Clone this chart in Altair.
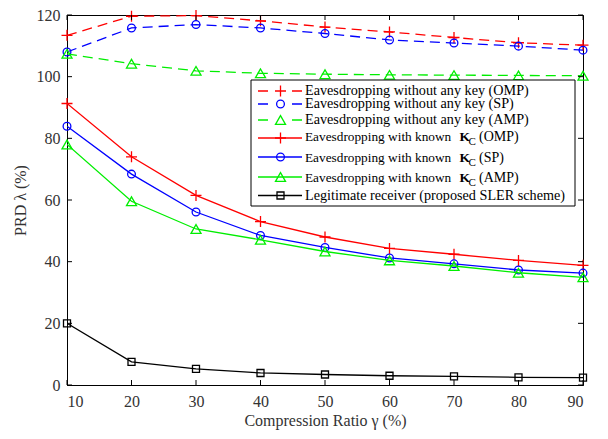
import altair as alt
import pandas as pd

# ---------------- data ----------------
ratios = [10, 20, 30, 40, 50, 60, 70, 80, 90]
omp_nokey = [113.4, 119.6, 119.8, 118.1, 116.1, 114.5, 112.7, 111.0, 110.2]
sp_nokey = [108.0, 115.8, 116.9, 115.8, 114.0, 111.9, 110.9, 109.9, 108.6]
amp_nokey = [107.4, 104.2, 101.9, 101.1, 100.8, 100.6, 100.5, 100.4, 100.3]
omp_kc = [91.3, 74.0, 61.5, 53.0, 48.0, 44.3, 42.4, 40.4, 38.8]
sp_kc = [83.9, 68.4, 56.1, 48.5, 44.6, 41.2, 39.3, 37.3, 36.3]
amp_kc = [78.0, 59.6, 50.6, 47.1, 43.3, 40.4, 38.6, 36.4, 34.9]
legit = [20.0, 7.5, 5.2, 3.9, 3.4, 3.0, 2.8, 2.5, 2.4]

x_ticks = [10, 20, 30, 40, 50, 60, 70, 80, 90]
y_ticks = [0, 20, 40, 60, 80, 100, 120]

PLUS = "M-1,0L1,0M0,-1L0,1"
series = [
    ("Eavesdropping without any key (OMP)", omp_nokey, "#ff0000", True, PLUS, 121),
    ("Eavesdropping without any key (SP)", sp_nokey, "#0000ff", True, "circle", 60),
    ("Eavesdropping without any key (AMP)", amp_nokey, "#00ee00", True, "triangle-up", 100),
    ("Eavesdropping with known K_C (OMP)", omp_kc, "#ff0000", False, PLUS, 121),
    ("Eavesdropping with known K_C (SP)", sp_kc, "#0000ff", False, "circle", 60),
    ("Eavesdropping with known K_C (AMP)", amp_kc, "#00ee00", False, "triangle-up", 100),
    ("Legitimate receiver (proposed SLER scheme)", legit, "#000000", False, "square", 49),
]

# ---------------- layout ----------------
W, H = 516, 370
PAD_L, PAD_T = 59, 7
OX, OY = 8 + PAD_L, 8 + PAD_T  # page coords of plot origin
FONT = "Liberation Serif"
TXT = "#333333"

xs = alt.Scale(domain=[10, 90], nice=False, zero=False)
ys = alt.Scale(domain=[0, 120], nice=False)

layers = []
for name, vals, color, dashed, shape, size in series:
    df = pd.DataFrame({"ratio": ratios, "prd": vals})
    base = alt.Chart(df)
    line_kw = dict(color=color, strokeWidth=1.3, clip=True)
    if dashed:
        line_kw["strokeDash"] = [10, 6]
    line = base.mark_line(**line_kw).encode(
        x=alt.X("ratio:Q", scale=xs, axis=alt.Axis(
            title="Compression Ratio \u03b3 (%)", values=x_ticks, format="d")),
        y=alt.Y("prd:Q", scale=ys, axis=alt.Axis(
            title="PRD \u03bb (%)", values=y_ticks, format="d")),
    )
    pts = base.mark_point(shape=shape, size=size, filled=False, color=color,
                          strokeWidth=1.3, opacity=1).encode(
        x=alt.X("ratio:Q", scale=xs), y=alt.Y("prd:Q", scale=ys))
    layers += [line, pts]

# inward ticks
xt = pd.DataFrame({"t": x_ticks})
yt = pd.DataFrame({"t": y_ticks})
TL = 5
layers.append(alt.Chart(xt).mark_rule(color="black", strokeWidth=1).encode(
    x=alt.X("t:Q", scale=xs), y=alt.value(H), y2=alt.value(H - TL)))
layers.append(alt.Chart(xt).mark_rule(color="black", strokeWidth=1).encode(
    x=alt.X("t:Q", scale=xs), y=alt.value(0), y2=alt.value(TL)))
layers.append(alt.Chart(yt).mark_rule(color="black", strokeWidth=1).encode(
    y=alt.Y("t:Q", scale=ys), x=alt.value(0), x2=alt.value(TL)))
layers.append(alt.Chart(yt).mark_rule(color="black", strokeWidth=1).encode(
    y=alt.Y("t:Q", scale=ys), x=alt.value(W), x2=alt.value(W - TL)))

# ---------------- manual legend ----------------
def px(x):
    return x - OX

def py(y):
    return y - OY

box = pd.DataFrame({"x": [px(251)], "x2": [px(575)], "y": [py(80)], "y2": [py(206)]})
layers.append(alt.Chart(box).mark_rect(fill="white", stroke="black", strokeWidth=1).encode(
    x=alt.X("x:Q", scale=None), x2="x2:Q", y=alt.Y("y:Q", scale=None), y2="y2:Q"))

line_y = [91, 104, 120, 138, 157, 177, 195.5]
text_y = [91, 104, 120, 136.5, 157.5, 177.5, 195.5]
for i, (name, vals, color, dashed, shape, size) in enumerate(series):
    ly = py(line_y[i])
    seg = pd.DataFrame({"x": [px(258)], "x2": [px(302)], "y": [ly]})
    rk = dict(color=color, strokeWidth=1.3)
    if dashed:
        rk["strokeDash"] = [10, 24]
    layers.append(alt.Chart(seg).mark_rule(**rk).encode(
        x=alt.X("x:Q", scale=None), x2="x2:Q", y=alt.Y("y:Q", scale=None)))
    mk = pd.DataFrame({"x": [px(280.5)], "y": [ly]})
    layers.append(alt.Chart(mk).mark_point(shape=shape, size=size, filled=False, color=color,
                                            strokeWidth=1.3, opacity=1).encode(
        x=alt.X("x:Q", scale=None), y=alt.Y("y:Q", scale=None)))
    ty = py(text_y[i])
    if "K_C" in name:
        pre, post = name.split(" K_C ")
        parts = [(pre, 305, ty, "normal", 13.3), ("K", 459.5, ty, "bold", 13.5),
                 ("C", 468.5, ty + 5, "normal", 11), (post, 479, ty, "normal", 14)]
    else:
        parts = [(name, 305, ty, "normal", 14.2)]
    for txt, tx, tyy, fw, fs in parts:
        tdf = pd.DataFrame({"x": [px(tx)], "y": [tyy], "label": [txt]})
        layers.append(alt.Chart(tdf).mark_text(
            align="left", baseline="middle", font=FONT, fontSize=fs, fontWeight=fw,
            color="black").encode(
            x=alt.X("x:Q", scale=None), y=alt.Y("y:Q", scale=None), text="label:N"))

chart = alt.layer(*layers).properties(
    width=W, height=H,
    autosize=alt.AutoSizeParams(type="none"),
    padding={"left": PAD_L, "top": PAD_T, "right": 17, "bottom": 46},
).configure(font=FONT).configure_view(stroke="black", strokeWidth=1).configure_axis(
    grid=False, ticks=False, domainColor="black", domainWidth=1,
    labelFont=FONT, labelFontSize=16, labelColor=TXT,
    titleFont=FONT, titleFontSize=16, titleFontWeight="normal", titleColor=TXT,
).configure_axisX(labelPadding=8, titlePadding=3).configure_axisY(
    labelPadding=7, titlePadding=8)

chart.save("out.html", embed_options={"renderer": "svg", "actions": False})
